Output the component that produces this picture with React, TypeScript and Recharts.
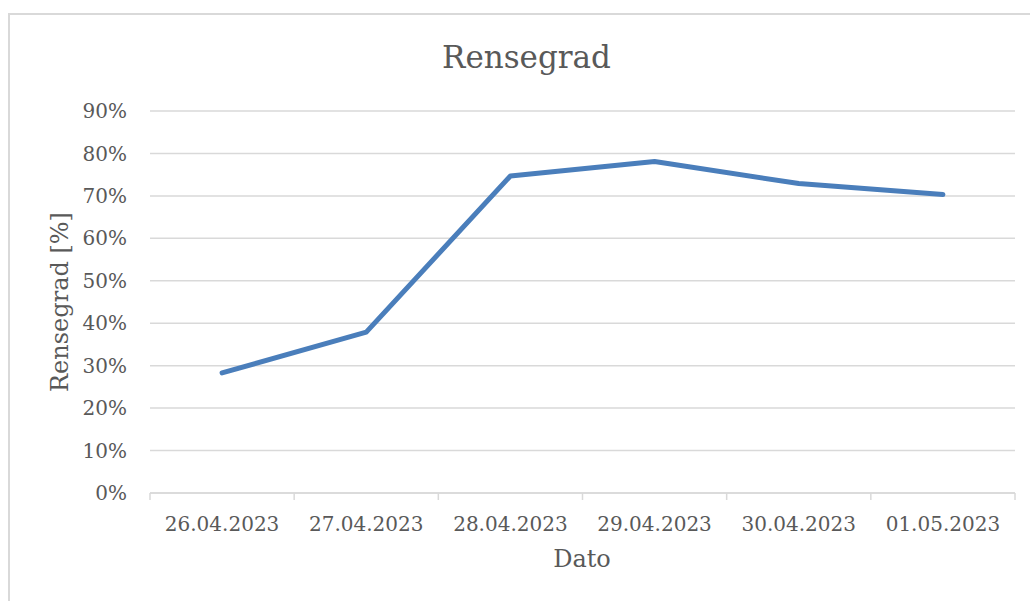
import React from 'react';
import { LineChart, Line, XAxis, YAxis, CartesianGrid } from 'recharts';

const dates = ['26.04.2023', '27.04.2023', '28.04.2023', '29.04.2023', '30.04.2023', '01.05.2023'];
const rensegrad = [0.283, 0.379, 0.747, 0.781, 0.729, 0.703];
const yTicks = [0, 0.1, 0.2, 0.3, 0.4, 0.5, 0.6, 0.7, 0.8, 0.9];

const data = dates.map((d, i) => ({ date: d, value: rensegrad[i] }));

const W = 1030;
const H = 601;
const PLOT_LEFT = 150;
const PLOT_RIGHT = 1015;
const PLOT_TOP = 111;
const PLOT_BOTTOM = 493;
const HALF_BAND = (PLOT_RIGHT - PLOT_LEFT) / dates.length / 2;

const FONT = '"DejaVu Serif", serif';
const TEXT = '#595959';
const GRID = '#d9d9d9';

const DateTick = (props: any) => {
  const { x, y, payload, index } = props;
  return (
    <g>
      <line x1={x - HALF_BAND} x2={x - HALF_BAND} y1={y} y2={y + 7} stroke={GRID} strokeWidth={1.5} />
      {index === dates.length - 1 && (
        <line x1={x + HALF_BAND} x2={x + HALF_BAND} y1={y} y2={y + 7} stroke={GRID} strokeWidth={1.5} />
      )}
      <text x={x} y={y + 38} textAnchor="middle" fill={TEXT} fontSize={20} fontFamily={FONT}>
        {payload.value}
      </text>
    </g>
  );
};

const YTitle = () => (
  <text
    x={0}
    y={0}
    transform={`translate(68, ${(PLOT_TOP + PLOT_BOTTOM) / 2}) rotate(-90)`}
    textAnchor="middle"
    fill={TEXT}
    fontSize={24}
    fontFamily={FONT}
  >
    Rensegrad [%]
  </text>
);

const XTitle = () => (
  <text x={582} y={567} textAnchor="middle" fill={TEXT} fontSize={24} fontFamily={FONT}>
    Dato
  </text>
);

export default function App() {
  return (
    <div
      style={{
        position: 'absolute',
        left: 0,
        top: 0,
        width: W,
        height: H,
        overflow: 'hidden',
        background: '#fff',
      }}
    >
      <div
        style={{
          position: 'absolute',
          left: 8,
          top: 13,
          width: 1060,
          height: 620,
          border: `2px solid ${GRID}`,
          boxSizing: 'border-box',
        }}
      />
      <div
        style={{
          position: 'absolute',
          left: 0,
          top: 37,
          width: 1053,
          textAlign: 'center',
          fontFamily: FONT,
          fontSize: 31,
          color: TEXT,
          lineHeight: '40px',
        }}
      >
        Rensegrad
      </div>
      <div style={{ position: 'absolute', left: 0, top: 0 }}>
        <LineChart
          width={W}
          height={H}
          data={data}
          margin={{ top: PLOT_TOP, right: W - PLOT_RIGHT, bottom: 0, left: 0 }}
        >
          <CartesianGrid vertical={false} stroke={GRID} strokeWidth={1.5} />
          <XAxis
            dataKey="date"
            height={H - PLOT_BOTTOM}
            padding={{ left: HALF_BAND, right: HALF_BAND }}
            axisLine={{ stroke: GRID, strokeWidth: 1.5 }}
            tickLine={false}
            tickSize={0}
            tickMargin={0}
            interval={0}
            tick={<DateTick />}
            label={<XTitle />}
          />
          <YAxis
            width={PLOT_LEFT}
            domain={[0, 0.9]}
            ticks={yTicks}
            axisLine={false}
            tickLine={false}
            tickSize={0}
            tickMargin={23}
            tickFormatter={(v: number) => `${Math.round(v * 100)}%`}
            tick={{ fill: TEXT, fontSize: 20, fontFamily: FONT }}
            label={<YTitle />}
          />
          <Line
            type="linear"
            dataKey="value"
            stroke="#4a7ebb"
            strokeWidth={5}
            strokeLinecap="round"
            strokeLinejoin="round"
            dot={false}
            activeDot={false}
            isAnimationActive={false}
          />
        </LineChart>
      </div>
    </div>
  );
}
